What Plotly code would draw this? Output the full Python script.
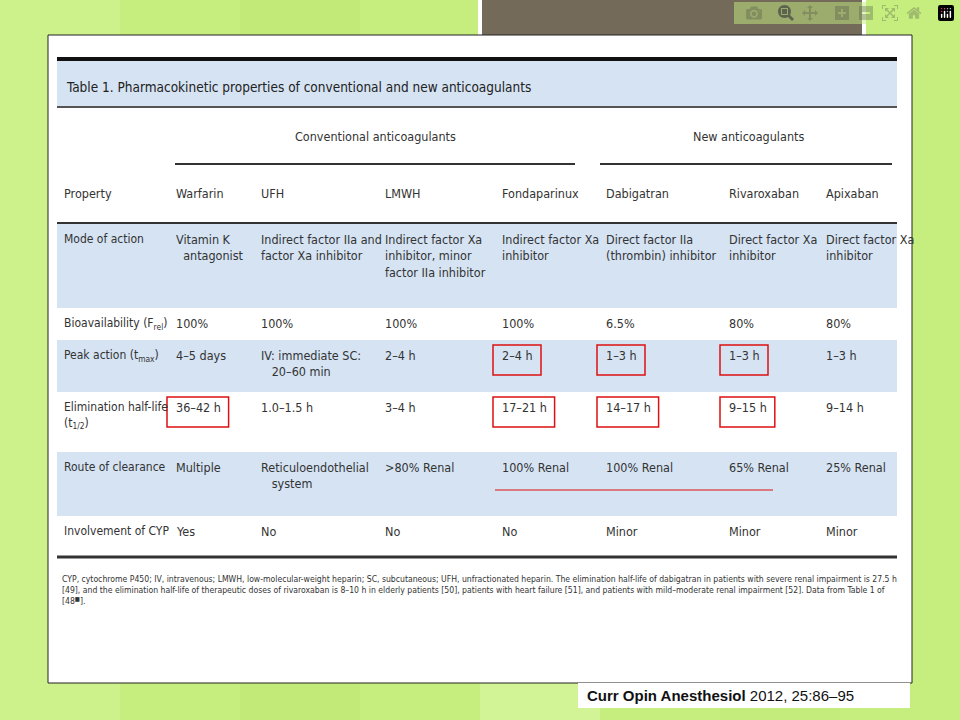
import plotly.graph_objects as go

title = "Table 1. Pharmacokinetic properties of conventional and new anticoagulants"
groups = ["Conventional anticoagulants", "New anticoagulants"]
columns = ["Property", "Warfarin", "UFH", "LMWH", "Fondaparinux", "Dabigatran", "Rivaroxaban", "Apixaban"]
mode_of_action = ["Mode of action", "Vitamin K<br>  antagonist", "Indirect factor IIa and<br>factor Xa inhibitor",
                  "Indirect factor Xa<br>inhibitor, minor<br>factor IIa inhibitor", "Indirect factor Xa<br>inhibitor",
                  "Direct factor IIa<br>(thrombin) inhibitor", "Direct factor Xa<br>inhibitor", "Direct factor Xa<br>inhibitor"]
bioavailability = ["Bioavailability (F<sub>rel</sub>)", "100%", "100%", "100%", "100%", "6.5%", "80%", "80%"]
peak_action = ["Peak action (t<sub>max</sub>)", "4–5 days", "IV: immediate SC:<br>   20–60 min", "2–4 h", "2–4 h", "1–3 h", "1–3 h", "1–3 h"]
half_life = ["Elimination half-life<br>(t<sub>1/2</sub>)", "36–42 h", "1.0–1.5 h", "3–4 h", "17–21 h", "14–17 h", "9–15 h", "9–14 h"]
clearance = ["Route of clearance", "Multiple", "Reticuloendothelial<br>   system", ">80% Renal", "100% Renal", "100% Renal", "65% Renal", "25% Renal"]
cyp = ["Involvement of CYP", "Yes", "No", "No", "No", "Minor", "Minor", "Minor"]
rows = [mode_of_action, bioavailability, peak_action, half_life, clearance, cyp]
footnote = ("CYP, cytochrome P450; IV, intravenous; LMWH, low-molecular-weight heparin; SC, subcutaneous; UFH, unfractionated heparin. "
            "The elimination half-life of dabigatran in patients with severe renal impairment is 27.5 h<br>"
            "[49], and the elimination half-life of therapeutic doses of rivaroxaban is 8–10 h in elderly patients [50], "
            "patients with heart failure [51], and patients with mild–moderate renal impairment [52]. Data from Table 1 of<br>[48<sup>■</sup>].")
citation = "<b>Curr Opin Anesthesiol</b> 2012, 25:86–95"

# layout positions
col_x = [62, 174, 259, 383, 500, 604, 727, 824]
row_top = [224, 308, 340, 392, 452, 516]
row_bot = [308, 340, 392, 452, 516, 550]
shaded = [True, False, True, False, True, False]
# highlighted cells (row index, column index)
boxes = [(2, 4), (2, 5), (2, 6), (3, 1), (3, 4), (3, 5), (3, 6)]

FONT = "DejaVu Sans Condensed, Liberation Sans Narrow, Liberation Sans"
BLUE = "#d5e3f3"
fig = go.Figure()
shapes = []
ann = []

def rect(x0, y0, x1, y1, fill, line=None, w=0):
    shapes.append(dict(type="rect", x0=x0, y0=y0, x1=x1, y1=y1, fillcolor=fill,
                       line=dict(color=line or fill, width=w), layer="below"))

def hline(x0, x1, y, color, w):
    shapes.append(dict(type="line", x0=x0, x1=x1, y0=y, y1=y, line=dict(color=color, width=w)))

# slide background
rect(0, 0, 960, 720, "#c6ee7e")
for i, c in enumerate(["#cdf28c", "#c2ea78", "#d2f396", "#c4ec7c"]):
    rect(i * 240, 0, i * 240 + 120, 720, c)
rect(480, -5, 864, 43, "#736a5a", "#ffffff", 4)
rect(48, 35, 912, 683, "#ffffff", "#222222", 1)
rect(578, 683, 910, 708, "#ffffff")

# title bar
rect(57, 59, 897, 107, BLUE)
hline(57, 897, 59, "#111111", 4)
hline(57, 897, 107, "#555555", 2)
ann.append(dict(x=64, y=87, text=title, xanchor="left", font=dict(size=13.5, color="#222")))

# group headers
ann.append(dict(x=375, y=136, text=groups[0], font=dict(size=12.5, color="#333")))
ann.append(dict(x=748, y=136, text=groups[1], font=dict(size=12.5, color="#333")))
hline(175, 575, 164, "#333333", 2)
hline(600, 892, 164, "#333333", 2)
for c, x in zip(columns, col_x):
    ann.append(dict(x=x, y=193, text=c, xanchor="left", font=dict(size=12.5, color="#333")))
hline(57, 897, 223, "#333333", 2)

for r, (vals, t, b, s) in enumerate(zip(rows, row_top, row_bot, shaded)):
    if s:
        rect(57, t, 897, b, BLUE)
    for c, (v, x) in enumerate(zip(vals, col_x)):
        ann.append(dict(x=x, y=t + 6, text=v, xanchor="left", yanchor="top", align="left",
                        font=dict(size=12.5 if c else 12, color="#333")))
hline(57, 897, 557, "#333333", 3)

for r, c in boxes:
    x = col_x[c]
    t = row_top[r] + 5
    w = 6.8 * len(rows[r][c]) + 14
    shapes.append(dict(type="rect", x0=x - 7, x1=x - 7 + w, y0=t, y1=t + 30,
                       line=dict(color="#dd1111", width=1.5)))
hline(495, 773, 490, "#dd1111", 1)

ann.append(dict(x=60, y=572, text=footnote, xanchor="left", yanchor="top", align="left",
                font=dict(size=8.6, color="#333")))
ann.append(dict(x=585, y=695, text=citation, xanchor="left", font=dict(size=15, color="#111", family="Liberation Sans")))

for a in ann:
    a.setdefault("showarrow", False)
    a.setdefault("font", {}).setdefault("family", FONT)

fig.update_layout(width=960, height=720, margin=dict(l=0, r=0, t=0, b=0),
                  shapes=shapes, annotations=ann, plot_bgcolor="#c6ee7e", paper_bgcolor="#c6ee7e",
                  xaxis=dict(range=[0, 960], visible=False),
                  yaxis=dict(range=[720, 0], visible=False), showlegend=False)
fig.write_html("out.html", post_script="document.body.style.margin='0';")
